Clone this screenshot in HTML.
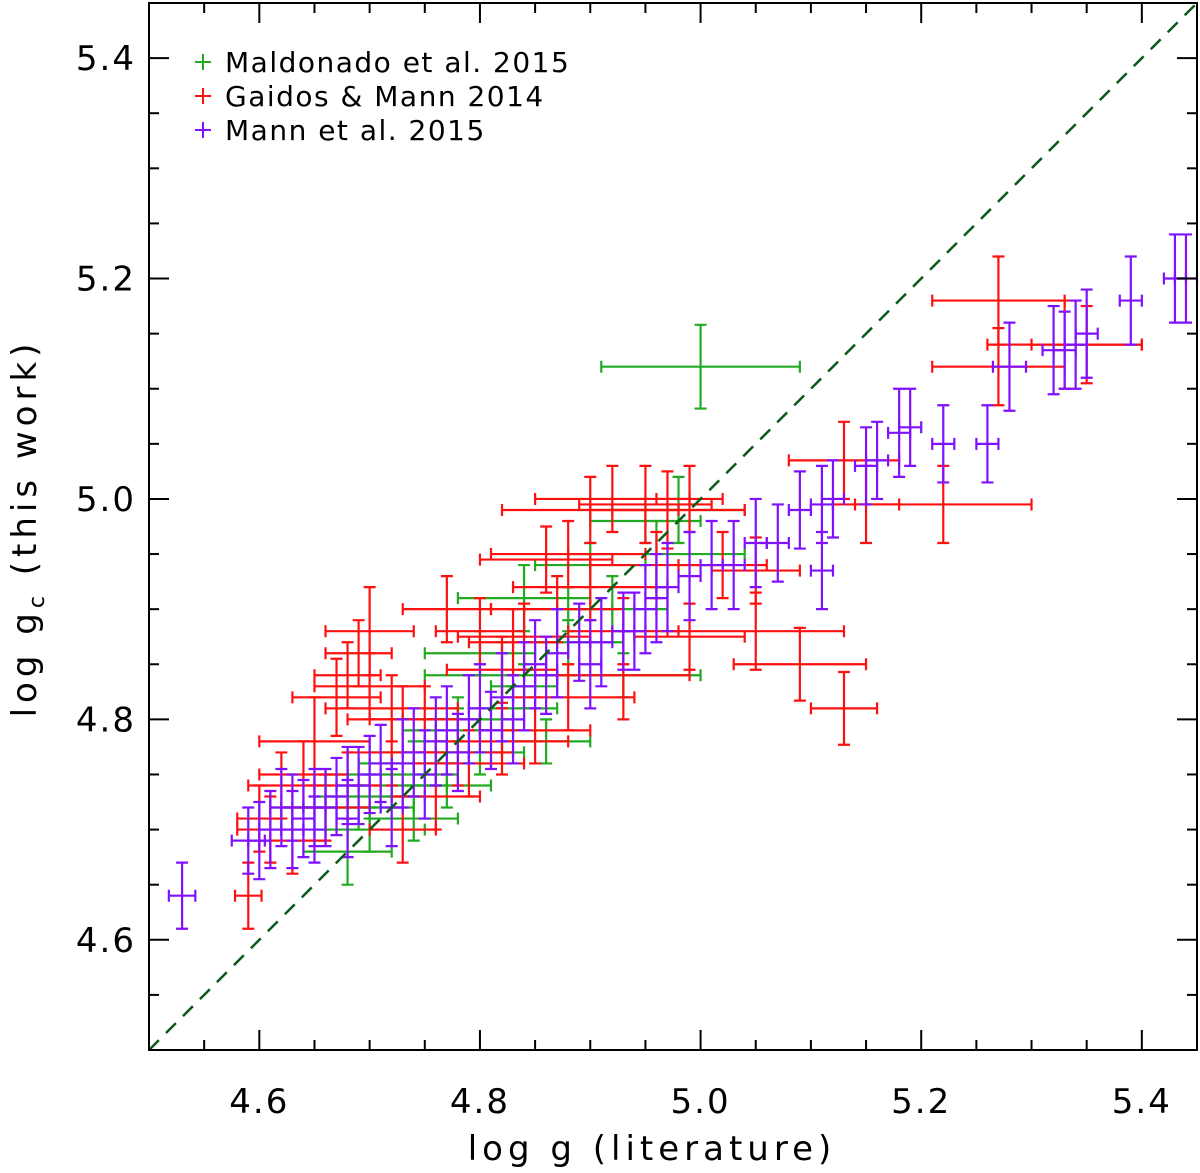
<!DOCTYPE html>
<html><head><meta charset="utf-8"><style>
html,body{margin:0;padding:0;background:#fff;}
svg{display:block;font-family:"DejaVu Sans","Liberation Sans",sans-serif;}
</style></head><body>
<svg id="chart" width="1200" height="1173" viewBox="0 0 1200 1173" xmlns="http://www.w3.org/2000/svg"></svg>
<script>
const xTicks=[4.6,4.8,5.0,5.2,5.4];
const yTicks=[4.6,4.8,5.0,5.2,5.4];
const tickLabels=["4.6","4.8","5.0","5.2","5.4"];
const legendNames=["Maldonado et al. 2015","Gaidos & Mann 2014","Mann et al. 2015"];
const legendColors=["#22aa22","#ff1010","#8010ff"];
// Maldonado: x, y, xerr, yerr
const malX=[5.00,4.95,4.90,4.96,4.88,4.84,4.80,4.82,4.78,4.76,4.74,4.72,4.70,4.69,4.68,4.70,4.74,4.77,4.80,4.86,4.92,4.98,4.93,4.84,4.75,4.72,4.66,4.78,4.83,4.88];
const malY=[5.12,4.98,4.94,4.95,4.90,4.91,4.86,4.84,4.79,4.77,4.76,4.75,4.73,4.72,4.68,4.70,4.71,4.74,4.77,4.78,4.90,4.99,4.84,4.83,4.76,4.74,4.72,4.80,4.81,4.87];
const malXe=[0.09,0.05,0.05,0.08,0.04,0.06,0.05,0.07,0.05,0.06,0.05,0.06,0.05,0.05,0.04,0.05,0.04,0.04,0.04,0.04,0.05,0.06,0.07,0.03,0.06,0.05,0.05,0.05,0.04,0.05];
const malYe=[0.038,0.02,0.02,0.03,0.02,0.03,0.02,0.03,0.02,0.03,0.02,0.02,0.02,0.02,0.03,0.02,0.02,0.02,0.02,0.02,0.03,0.03,0.02,0.02,0.02,0.02,0.02,0.02,0.02,0.02];
// Gaidos & Mann
const gaiX=[5.27,5.33,5.35,5.27,5.22,5.15,5.13,5.13,5.09,5.05,5.05,4.93,4.59,4.69,4.70,4.68,4.73,4.77,4.80,4.82,4.84,4.86,4.88,4.90,4.92,4.95,4.97,4.99,4.96,4.93,4.88,4.85,4.82,4.78,4.75,4.72,4.70,4.67,4.65,4.64,4.62,4.61,4.60,4.63,4.66,4.73,4.76,4.79,4.83,4.87,4.90,4.99,5.02,4.68,4.72];
const gaiY=[5.18,5.14,5.14,5.12,4.995,4.995,5.035,4.81,4.85,4.88,4.935,4.84,4.64,4.86,4.88,4.84,4.80,4.90,4.88,4.845,4.875,4.945,4.95,4.99,5.00,4.995,4.99,5.00,4.94,4.88,4.82,4.79,4.78,4.77,4.80,4.81,4.83,4.82,4.78,4.75,4.74,4.70,4.71,4.69,4.72,4.70,4.73,4.76,4.87,4.90,4.92,4.875,4.94,4.74,4.77];
const gaiXe=[0.06,0.07,0.05,0.06,0.08,0.03,0.05,0.03,0.06,0.08,0.04,0.06,0.012,0.03,0.04,0.03,0.05,0.04,0.04,0.05,0.06,0.06,0.07,0.08,0.07,0.06,0.07,0.03,0.06,0.05,0.06,0.05,0.06,0.05,0.05,0.06,0.05,0.04,0.05,0.04,0.03,0.03,0.02,0.03,0.04,0.03,0.04,0.05,0.04,0.06,0.07,0.05,0.04,0.03,0.04];
const gaiYe=[0.04,0.04,0.035,0.035,0.035,0.035,0.035,0.033,0.033,0.035,0.03,0.04,0.03,0.03,0.04,0.03,0.03,0.03,0.03,0.03,0.03,0.03,0.03,0.03,0.03,0.035,0.035,0.03,0.03,0.03,0.03,0.03,0.03,0.03,0.03,0.03,0.03,0.035,0.04,0.03,0.03,0.03,0.03,0.03,0.03,0.03,0.03,0.03,0.03,0.03,0.03,0.03,0.03,0.03,0.03];
// Mann et al.
const manX=[5.44,5.43,5.39,5.35,5.34,5.33,5.32,5.28,5.26,5.22,5.19,5.18,5.16,5.15,5.12,5.11,5.11,5.09,5.07,5.05,5.03,5.01,4.99,4.97,4.95,4.93,4.91,4.89,4.87,4.85,4.84,4.82,4.80,4.79,4.77,4.76,4.74,4.73,4.71,4.70,4.69,4.68,4.67,4.66,4.65,4.64,4.63,4.62,4.61,4.60,4.59,4.53,4.96,4.94,4.90,4.86,4.83,4.81,4.78,4.75,4.72,4.68,4.65,4.63];
const manY=[5.20,5.20,5.18,5.15,5.14,5.135,5.135,5.12,5.05,5.05,5.065,5.06,5.035,5.03,5.00,4.995,4.935,4.99,4.96,4.96,4.94,4.94,4.93,4.92,4.90,4.88,4.87,4.87,4.86,4.85,4.83,4.82,4.81,4.80,4.79,4.78,4.77,4.76,4.76,4.75,4.74,4.74,4.73,4.72,4.72,4.71,4.70,4.72,4.70,4.69,4.69,4.64,4.91,4.88,4.85,4.84,4.80,4.79,4.77,4.75,4.72,4.71,4.70,4.72];
const manXe=[0.01,0.01,0.01,0.01,0.01,0.01,0.01,0.015,0.01,0.01,0.01,0.01,0.01,0.01,0.01,0.01,0.01,0.01,0.01,0.01,0.01,0.01,0.01,0.01,0.01,0.01,0.01,0.01,0.01,0.01,0.01,0.01,0.01,0.01,0.01,0.01,0.01,0.01,0.01,0.01,0.01,0.01,0.01,0.01,0.01,0.01,0.01,0.01,0.01,0.01,0.015,0.012,0.01,0.01,0.01,0.01,0.01,0.01,0.01,0.01,0.01,0.01,0.01,0.01];
const manYe=[0.04,0.04,0.04,0.04,0.04,0.035,0.04,0.04,0.035,0.035,0.035,0.04,0.035,0.035,0.035,0.035,0.035,0.035,0.035,0.04,0.04,0.04,0.04,0.04,0.04,0.035,0.04,0.035,0.04,0.04,0.04,0.04,0.04,0.04,0.04,0.04,0.04,0.04,0.035,0.035,0.035,0.035,0.035,0.035,0.035,0.035,0.035,0.035,0.035,0.035,0.03,0.03,0.04,0.035,0.04,0.035,0.04,0.035,0.035,0.04,0.035,0.035,0.03,0.03];

const L=149,R=1197,T=3,B=1050,MIN=4.5,MAX=5.45;
const sx=v=>L+(v-MIN)/(MAX-MIN)*(R-L);
const sy=v=>B-(v-MIN)/(MAX-MIN)*(B-T);
const svg=document.getElementById('chart');
const NS='http://www.w3.org/2000/svg';
function mk(tag,attrs,parent){const e=document.createElementNS(NS,tag);for(const k in attrs)e.setAttribute(k,attrs[k]);(parent||svg).appendChild(e);return e;}

function series(xs,ys,xe,ye,color,name){
  const g=mk('g',{stroke:color,'stroke-width':2.2,fill:'none'});
  
  
  const cap=6;
  for(let i=0;i<xs.length;i++){
    const x=sx(xs[i]),y=sy(ys[i]),x0=sx(xs[i]-xe[i]),x1=sx(xs[i]+xe[i]),y0=sy(ys[i]-ye[i]),y1=sy(ys[i]+ye[i]);
    const p=mk('path',{d:`M${x0},${y}H${x1}M${x0},${y-cap}V${y+cap}M${x1},${y-cap}V${y+cap}M${x},${y0}V${y1}M${x-cap},${y0}H${x+cap}M${x-cap},${y1}H${x+cap}`},g);
    
    
  }
}
series(malX,malY,malXe,malYe,legendColors[0],'maldonado');
series(gaiX,gaiY,gaiXe,gaiYe,legendColors[1],'gaidos');
series(manX,manY,manXe,manYe,legendColors[2],'mann');

const diag=mk('line',{x1:sx(MIN),y1:sy(MIN),x2:sx(MAX),y2:sy(MAX),stroke:'#0a5a1a','stroke-width':2.5,'stroke-dasharray':'14,10'});



const frame=mk('rect',{x:L,y:T,width:R-L,height:B-T,fill:'none',stroke:'#000','stroke-width':2});



const ticks=mk('g',{stroke:'#000','stroke-width':2});


for(let v=4.55;v<5.451;v+=0.05){
  const vv=Math.round(v*100)/100;
  const major=xTicks.includes(vv);const len=major?20:10;
  const x=sx(vv),y=sy(vv);
  mk('line',{x1:x,y1:B,x2:x,y2:B-len},ticks);
  mk('line',{x1:x,y1:T,x2:x,y2:T+len},ticks);
  mk('line',{x1:L,y1:y,x2:L+len,y2:y},ticks);
  mk('line',{x1:R,y1:y,x2:R-len,y2:y},ticks);
}
xTicks.forEach((v,i)=>{
  const t=mk('text',{x:sx(v),y:1113,'text-anchor':'middle','font-size':34,'letter-spacing':2,fill:'#000'});
  t.textContent=tickLabels[i];
  
  
});
yTicks.forEach((v,i)=>{
  const t=mk('text',{x:136,y:sy(v)+12,'text-anchor':'end','font-size':34,'letter-spacing':2,fill:'#000'});
  t.textContent=tickLabels[i];
  
  
});
const xt=mk('text',{x:652,y:1160,'text-anchor':'middle','font-size':34,'letter-spacing':5,fill:'#000'});
xt.textContent='log g (literature)';


const yt=mk('text',{transform:'translate(36,528) rotate(-90)','text-anchor':'middle','font-size':34,'letter-spacing':5,fill:'#000'});
yt.innerHTML='log g<tspan font-size="22" dy="8">c</tspan><tspan dy="-8"> (this work)</tspan>';



legendNames.forEach((n,i)=>{
  const cy=62+i*34;
  const g=mk('g',{});
  
  
  mk('path',{d:`M195,${cy}H211M203,${cy-8}V${cy+8}`,stroke:legendColors[i],'stroke-width':2},g);
  const t=mk('text',{x:225,y:cy+10,'font-size':28,'letter-spacing':1.5,fill:'#000'},g);
  t.textContent=n;
});
</script>
</body></html>
